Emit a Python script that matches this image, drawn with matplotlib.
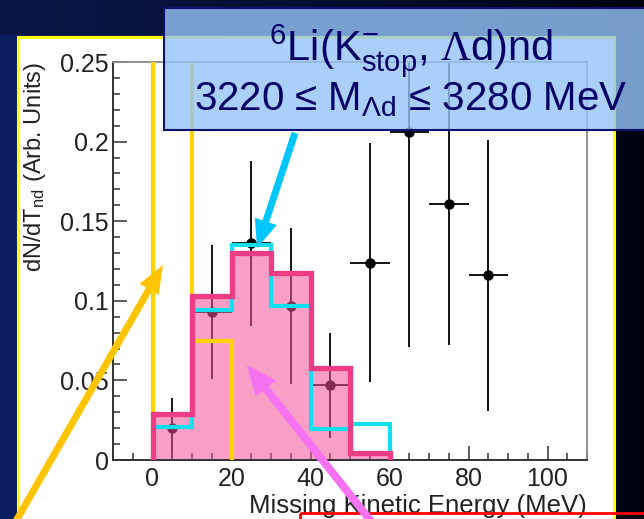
import numpy as np
import matplotlib
matplotlib.use("Agg")
import matplotlib.pyplot as plt
from matplotlib.patches import Rectangle
from matplotlib.ticker import MultipleLocator

plt.rcParams['font.family'] = ['Liberation Sans', 'DejaVu Sans']
plt.rcParams['mathtext.fontset'] = 'custom'
plt.rcParams['mathtext.rm'] = 'Liberation Sans'
plt.rcParams['mathtext.it'] = 'Liberation Sans:italic'
plt.rcParams['mathtext.sf'] = 'Liberation Serif'

# histograms (10 MeV bins)
bin_edges = [0, 10, 20, 30, 40, 50, 60]
pink_vals = [0.029, 0.103, 0.130, 0.1175, 0.058, 0.0044]
cyan_vals = [0.021, 0.094, 0.135, 0.097, 0.0195, 0.0226]
yellow_edges = [0, 10, 20]
yellow_vals = [0.5, 0.075]

# measured points
pt_x = [5, 15, 25, 35, 45, 55, 65, 75, 85]
pt_y = [0.020, 0.093, 0.136, 0.097, 0.047, 0.124, 0.206, 0.161, 0.116]
pt_yerr = [0.019, 0.042, 0.052, 0.049, 0.033, 0.075, 0.135, 0.089, 0.085]
pt_xerr = 5

title1 = r"$^{6}$Li(K$^{-}_{\mathregular{stop}}$, $\mathsf{\Lambda}$d)nd"
title2 = r"3220 ≤ M$_{\mathregular{\Lambda d}}$ ≤ 3280 MeV"

W, H = 644, 519
fig = plt.figure(figsize=(W / 100, H / 100), dpi=100)


def frac(x0, y0, x1, y1):
    return [x0 / W, 1 - y1 / H, (x1 - x0) / W, (y1 - y0) / H]


# slide background
bg = fig.add_axes([0, 0, 1, 1], zorder=0)
xx = np.linspace(0, 1, W)[None, :, None]
yy = np.linspace(0, 1, H)[:, None, None]
left_c = np.array([12, 30, 95]) / 255
right_c = np.array([0, 0, 10]) / 255
mix = (1 - xx) ** 0.6
img = left_c * mix + right_c * (1 - mix)
img = img * np.where(yy < 35 / H, 0.75, 1.0)
bg.imshow(np.clip(img, 0, 1), extent=(0, W, H, 0), aspect='auto')
bg.add_patch(Rectangle((18.5, 36.5), 596, 500, facecolor='white',
                       edgecolor='#ffff00', lw=2.2))
bg.set_xlim(0, W)
bg.set_ylim(H, 0)
bg.axis('off')

# the plot
ax = fig.add_axes(frac(113, 62, 587, 460), zorder=1)
ax.set_facecolor('white')
ax.errorbar(pt_x, pt_y, yerr=pt_yerr, xerr=pt_xerr, fmt='o', color='black',
            ms=6.5, elinewidth=1.3, capsize=0, zorder=1)
ax.stairs(pink_vals, bin_edges, fill=True, color='#f5509a', alpha=0.55, zorder=2)
ax.stairs(cyan_vals, bin_edges, color='#10e0ee', lw=3, zorder=3)
ax.stairs(yellow_vals, yellow_edges, color='#ffd200', lw=3, zorder=3)
ax.stairs(pink_vals, bin_edges, color='#ee3d86', lw=3.8, zorder=4)

ax.set_xlim(-10, 110)
ax.set_ylim(0, 0.25)
ax.xaxis.set_major_locator(MultipleLocator(20))
ax.xaxis.set_minor_locator(MultipleLocator(5))
ax.yaxis.set_minor_locator(MultipleLocator(0.01))
ax.set_yticks([0, 0.05, 0.1, 0.15, 0.2, 0.25], ['0', '0.05', '0.1', '0.15', '0.2', '0.25'])
ax.tick_params(which='both', direction='in', colors='#333333', labelcolor='#222222',
               labelsize=18, width=1.1)
ax.tick_params(which='major', length=10)
ax.tick_params(which='minor', length=5)
ax.tick_params(axis='y', pad=3)
ax.tick_params(axis='x', pad=5)
for side in ['top', 'right']:
    ax.spines[side].set_color('#8a8a8a')
    ax.spines[side].set_linewidth(1.3)
for side in ['left', 'bottom']:
    ax.spines[side].set_color('#333333')
    ax.spines[side].set_linewidth(1.4)

ax.set_xlabel('Missing Kinetic Energy (MeV)', fontsize=18.5, color='#222222', loc='right')
ax.xaxis.set_label_coords(1.0, -0.086)
ax.xaxis.label.set_va('top')
ax.set_ylabel(r'dN/dT$_{\mathregular{nd}}$ (Arb. Units)', fontsize=17, color='#222222', loc='top')
ax.yaxis.set_label_coords(-0.138, 1.0)

# annotations on top
top = fig.add_axes([0, 0, 1, 1], zorder=2)
top.patch.set_alpha(0)
top.set_xlim(0, W)
top.set_ylim(H, 0)
top.axis('off')

top.add_patch(Rectangle((164.5, 7.5), 500, 122.5, facecolor=(149 / 255, 196 / 255, 249 / 255),
                        alpha=0.8, edgecolor='none'))
top.add_patch(Rectangle((164.5, 7.5), 500, 122.5, facecolor='none',
                        edgecolor='#10106a', lw=1.5))
top.text(411, 60, title1, fontsize=30, color='#000066', ha='center', va='baseline')
top.text(411, 110, title2, fontsize=29, color='#000066', ha='center', va='baseline')

top.add_patch(Rectangle((300, 513), 400, 30, facecolor='none', edgecolor='#ff0000', lw=2))

top.arrow(12, 528, 163 - 12, 265 - 528, width=7, head_width=22, head_length=28,
          length_includes_head=True, color='#ffc400', lw=0)
top.arrow(295, 133, 257 - 295, 248 - 133, width=7, head_width=23, head_length=28,
          length_includes_head=True, color='#00c6ff', lw=0)
top.arrow(378, 530, 247 - 378, 365 - 530, width=8, head_width=26, head_length=30,
          length_includes_head=True, color='#f573f0', lw=0)

fig.savefig('out.png', dpi=100)
